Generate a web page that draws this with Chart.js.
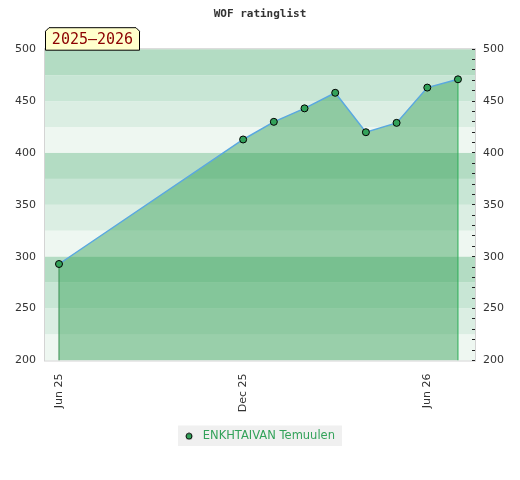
<!DOCTYPE html>
<html>
<head>
<meta charset="utf-8">
<script src="https://cdn.jsdelivr.net/npm/chart.js@4.4.1/dist/chart.umd.min.js"></script>
<style>
  html, body { margin: 0; padding: 0; background: #fff; }
  #wrap { width: 520px; height: 480px; }
</style>
</head>
<body>
<div id="wrap"><canvas id="chart" width="520" height="480"></canvas></div>
<script>
// rating list values, one per published month
const months = ['2025-06', '2025-12', '2026-01', '2026-02', '2026-03', '2026-04', '2026-05', '2026-06', '2026-07'];
const ratings = [293, 413, 430, 443, 458, 420, 429, 463, 471];

// x tick labels
const tickMonths = ['2025-06', '2025-12', '2026-06'];
const tickLabels = ['Jun 25', 'Dec 25', 'Jun 26'];

const playerName = 'ENKHTAIVAN Temuulen';
const seasonLabel = '2025\u20132026';

// month string -> month index counted from Jun 2025
function monthIndex(s) {
  const [y, m] = s.split('-').map(Number);
  return (y - 2025) * 12 + (m - 6);
}

const points = months.map((m, i) => ({ x: monthIndex(m), y: ratings[i] }));
const first = points[0], last = points[points.length - 1];

const stripeColors = ['#b3dcc3', '#c8e6d5', '#dbeee3', '#eef7f1'];
const EXTRA = 3; // plot background runs under the right-hand ticks

// small legend icon: dot on the left of a wider box so the text sits further away
const legendIcon = document.createElement('canvas');
legendIcon.width = 12; legendIcon.height = 8;
(function () {
  const c = legendIcon.getContext('2d');
  c.beginPath();
  c.arc(4, 4, 3, 0, Math.PI * 2);
  c.fillStyle = '#33a25a';
  c.fill();
  c.lineWidth = 1;
  c.strokeStyle = '#000';
  c.stroke();
})();

const backdrop = {
  id: 'backdrop',
  beforeDraw(chart) {
    const { ctx, chartArea: a, scales } = chart;
    const y = scales.y;
    const w = a.right - a.left + EXTRA;
    ctx.save();
    let k = 0;
    for (let v = 500; v > 200; v -= 25) {
      const top = y.getPixelForValue(v), bot = y.getPixelForValue(v - 25);
      ctx.fillStyle = stripeColors[k % 4];
      ctx.fillRect(a.left, top, w, bot - top);
      k++;
    }
    ctx.strokeStyle = '#d4d4d4';
    ctx.lineWidth = 1;
    ctx.strokeRect(a.left - 0.5, a.top - 0.5, w + 1, a.bottom - a.top + 1);

    // legend background
    const hb = chart.legend.legendHitBoxes[0];
    if (hb) {
      ctx.fillStyle = '#f0f0f0';
      ctx.fillRect(hb.left - 7, hb.top - 5, hb.width + 14, hb.height + 9);
    }
    ctx.restore();
  },
  afterDraw(chart) {
    // season tag above the plot
    const { ctx, chartArea: a } = chart;
    const x0 = a.left, x1 = a.left + 95, y0 = a.top - 22, y1 = a.top + 1, c = 4;
    ctx.save();
    ctx.beginPath();
    ctx.moveTo(x0 + 0.5, y1);
    ctx.lineTo(x0 + 0.5, y0 + c);
    ctx.lineTo(x0 + c, y0 + 0.5);
    ctx.lineTo(x1 - c, y0 + 0.5);
    ctx.lineTo(x1 - 0.5, y0 + c);
    ctx.lineTo(x1 - 0.5, y1);
    ctx.closePath();
    ctx.fillStyle = '#ffffcc';
    ctx.fill();
    ctx.strokeStyle = '#000';
    ctx.lineWidth = 1;
    ctx.stroke();
    ctx.fillStyle = '#8b0000';
    ctx.font = '15px "DejaVu Sans Mono"';
    ctx.textBaseline = 'middle';
    ctx.textAlign = 'center';
    ctx.fillText(seasonLabel, (x0 + x1) / 2, (y0 + y1) / 2 + 1);
    ctx.restore();
  }
};

const ctx = document.getElementById('chart').getContext('2d');

new Chart(ctx, {
  type: 'line',
  data: {
    datasets: [
      {
        label: playerName,
        data: points,
        fill: 'start',
        backgroundColor: 'rgba(45,158,80,0.44)',
        borderColor: '#5aa8e0',
        borderWidth: 1.5,
        tension: 0,
        pointRadius: 3.5,
        pointBackgroundColor: '#33a25a',
        pointBorderColor: '#000',
        pointBorderWidth: 1,
        order: 0
      },
      {
        label: 'start-edge',
        data: [{ x: first.x, y: 200 }, first],
        borderColor: '#3a8a50',
        borderWidth: 1,
        pointRadius: 0,
        fill: false,
        order: 1
      },
      {
        label: 'end-edge',
        data: [{ x: last.x, y: 200 }, last],
        borderColor: '#2db35a',
        borderWidth: 1,
        pointRadius: 0,
        fill: false,
        order: 1
      }
    ]
  },
  options: {
    responsive: false,
    animation: false,
    layout: { padding: { left: 0, right: 0, bottom: 28 } },
    plugins: {
      title: {
        display: true,
        text: 'WOF ratinglist',
        color: '#333',
        font: { family: '"DejaVu Sans Mono"', size: 11, weight: 'bold' },
        padding: { top: 8, bottom: 28 }
      },
      legend: {
        position: 'bottom',
        labels: {
          generateLabels: () => [{
            text: playerName,
            datasetIndex: 0,
            pointStyle: legendIcon,
            fontColor: '#33a25a',
            hidden: false
          }],
          usePointStyle: true,
          pointStyleWidth: 12,
          boxHeight: 8,
          color: '#33a25a',
          font: { family: '"DejaVu Sans"', size: 11.5 },
          padding: 8
        }
      },
      tooltip: { enabled: false }
    },
    scales: {
      x: {
        type: 'linear',
        min: -0.456,
        max: 13.457,
        grid: { display: false, drawTicks: false },
        border: { display: false },
        afterBuildTicks: s => { s.ticks = tickMonths.map(m => ({ value: monthIndex(m) })); },
        afterFit: s => { s.height = 62; },
        ticks: {
          autoSkip: false,
          minRotation: 90,
          maxRotation: 90,
          padding: 13,
          color: '#333',
          font: { family: '"DejaVu Sans"', size: 11 },
          callback: v => tickLabels[tickMonths.map(monthIndex).indexOf(v)] ?? ''
        }
      },
      y: {
        position: 'left',
        min: 200,
        max: 500,
        grid: { display: false, drawTicks: false },
        border: { display: false },
        afterFit: s => { s.width = 45; },
        ticks: {
          stepSize: 50,
          padding: 9,
          color: '#333',
          font: { family: '"DejaVu Sans"', size: 11 }
        }
      },
      y2: {
        position: 'right',
        min: 200,
        max: 500,
        grid: { drawOnChartArea: false, drawTicks: true, tickLength: 3, color: '#222', lineWidth: 1 },
        border: { display: false },
        afterFit: s => { s.width = 48; },
        ticks: {
          stepSize: 10,
          autoSkip: false,
          padding: 8,
          color: '#333',
          font: { family: '"DejaVu Sans"', size: 11 },
          callback: v => (v % 50 === 0 ? v : '')
        }
      }
    }
  },
  plugins: [backdrop]
});
</script>
</body>
</html>
